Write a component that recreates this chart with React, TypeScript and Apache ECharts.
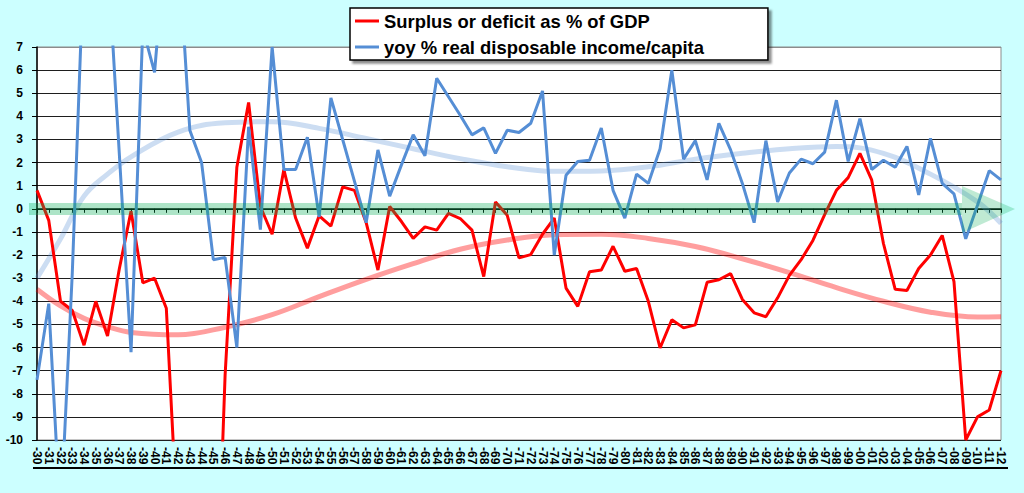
import React, { useEffect, useRef } from "react";
import * as echarts from "echarts";

const yearLabels = [
  "-30","-31","-32","-33","-34","-35","-36","-37","-38","-39",
  "-40","-41","-42","-43","-44","-45","-46","-47","-48","-49",
  "-50","-51","-52","-53","-54","-55","-56","-57","-58","-59",
  "-60","-61","-62","-63","-64","-65","-66","-67","-68","-69",
  "-70","-71","-72","-73","-74","-75","-76","-77","-78","-79",
  "-80","-81","-82","-83","-84","-85","-86","-87","-88","-89",
  "-90","-91","-92","-93","-94","-95","-96","-97","-98","-99",
  "-00","-01","-02","-03","-04","-05","-06","-07","-08","-09",
  "-10","-11","-12",
];

const surplusName = "Surplus or deficit as % of GDP";
const incomeName = "yoy % real disposable income/capita";

// Surplus (+) or deficit (-) as % of GDP, 1930-2012
const surplus = [
  0.8, -0.5, -4.0, -4.4, -5.9, -4.0, -5.5, -2.6, -0.1, -3.2,
  -3.0, -4.3, -14.2, -30.0, -22.7, -21.5, -7.2, 1.8, 4.6, 0.1,
  -1.1, 1.7, -0.4, -1.7, -0.3, -0.75, 0.95, 0.8, -0.6, -2.65,
  0.1, -0.55, -1.28, -0.78, -0.92, -0.2, -0.42, -0.92, -2.93, 0.3,
  -0.28, -2.12, -1.98, -1.1, -0.4, -3.43, -4.22, -2.72, -2.65, -1.62,
  -2.7, -2.58, -4.0, -6.02, -4.8, -5.15, -5.02, -3.18, -3.07, -2.8,
  -3.92, -4.5, -4.67, -3.85, -2.88, -2.2, -1.37, -0.25, 0.8, 1.35,
  2.4, 1.25, -1.5, -3.48, -3.53, -2.58, -2.0, -1.15, -3.15, -10.0,
  -9.0, -8.7, -7.0,
];

// Year-over-year % change in real disposable income per capita, 1930-2012
const income = [
  -7.4, -4.1, -13.5, -2.8, 11.0, 10.0, 11.0, 2.4, -6.2, 7.8,
  5.9, 12.0, 11.5, 3.4, 2.0, -2.2, -2.1, -6.0, 3.55, -0.9,
  7.0, 1.7, 1.7, 3.1, -0.35, 4.8, 3.0, 1.2, -0.6, 2.55,
  0.55, 1.9, 3.2, 2.3, 5.65, 4.85, 4.05, 3.2, 3.5, 2.4,
  3.4, 3.3, 3.7, 5.1, -2.0, 1.45, 2.05, 2.1, 3.5, 0.8,
  -0.4, 1.5, 1.1, 2.6, 6.0, 2.15, 2.95, 1.25, 3.7, 2.55,
  1.1, -0.6, 2.95, 0.3, 1.55, 2.15, 1.95, 2.45, 4.7, 2.05,
  3.9, 1.7, 2.1, 1.8, 2.7, 0.6, 3.05, 1.1, 0.65, -1.3,
  0.15, 1.65, 1.25,
];

// Trend curves at these years
const trendLabels = [
  "-30","-32","-34","-36","-38","-42","-46","-50","-54","-58","-62","-66",
  "-70","-74","-78","-82","-86","-90","-94","-98","-02","-06","-10","-12",
];
const surplusTrend = [
  -3.48, -4.2, -4.74, -5.1, -5.35, -5.45, -5.12, -4.58, -3.8, -3.05, -2.37, -1.75,
  -1.35, -1.12, -1.1, -1.28, -1.63, -2.16, -2.76, -3.41, -4.0, -4.47, -4.68, -4.67,
];
const incomeTrend = [
  -3.0, -1.3, 0.55, 1.5, 2.25, 3.32, 3.72, 3.77, 3.48, 3.04, 2.6, 2.17,
  1.82, 1.62, 1.64, 1.82, 2.15, 2.4, 2.6, 2.7, 2.4, 1.5, 0.3, -0.63,
];

const yMin = -10;
const yMax = 7;
const yStep = 1;

const FONT = "'Liberation Sans', Arial, Helvetica, sans-serif";
const RED = "#ff0000";
const BLUE = "#558ed5";

export default function App() {
  const ref = useRef<HTMLDivElement>(null);

  useEffect(() => {
    if (!ref.current) return;
    const chart = echarts.init(ref.current, null, { renderer: "svg" });

    const gridCount = Math.round((yMax - yMin) / yStep) + 1;
    const splitColors: string[] = [];
    for (let i = 0; i < gridCount; i++) splitColors.push(i === gridCount - 1 ? "#8c8c8c" : "#1e1e1e");

    const option: any = {
      animation: false,
      backgroundColor: "#ccffff",
      textStyle: { fontFamily: FONT },
      grid: {
        left: 37,
        right: 23,
        top: 47,
        bottom: 53,
        show: true,
        backgroundColor: "#ffffff",
        borderColor: "#8c8c8c",
        borderWidth: 1,
        containLabel: false,
      },
      legend: {
        data: [surplusName, incomeName],
        orient: "vertical",
        left: 350,
        top: 8,
        icon: "rect",
        itemWidth: 24,
        itemHeight: 3,
        itemGap: 8,
        padding: [4, 64, 4, 5],
        backgroundColor: "#ffffff",
        borderColor: "#000000",
        borderWidth: 1.5,
        shadowColor: "rgba(0,0,0,0.45)",
        shadowBlur: 2,
        shadowOffsetX: 3,
        shadowOffsetY: 3,
        textStyle: { fontSize: 18.4, fontWeight: "bold", color: "#000", fontFamily: FONT },
      },
      xAxis: {
        type: "category",
        data: yearLabels,
        boundaryGap: false,
        axisLine: { show: true, lineStyle: { color: "#000", width: 1.5 } },
        axisTick: { show: true, length: 4, interval: 0, lineStyle: { color: "#000" } },
        axisLabel: {
          interval: 0,
          rotate: -90,
          margin: 7,
          fontSize: 12,
          fontWeight: "bold",
          color: "#000",
          fontFamily: FONT,
        },
        splitLine: { show: false },
      },
      yAxis: {
        type: "value",
        min: yMin,
        max: yMax,
        interval: yStep,
        axisLine: { show: true, lineStyle: { color: "#000", width: 1.5 } },
        axisTick: { show: true, length: 5, lineStyle: { color: "#000" } },
        axisLabel: {
          margin: 14,
          fontSize: 12,
          fontWeight: "bold",
          color: "#000",
          fontFamily: FONT,
        },
        splitLine: { show: true, lineStyle: { color: splitColors, width: 1 } },
      },
      series: [
        {
          name: "surplus trend",
          type: "line",
          data: trendLabels.map((l, i) => [l, surplusTrend[i]]),
          smooth: 0.4,
          showSymbol: false,
          lineStyle: { color: "rgba(255,0,0,0.38)", width: 5 },
          z: 1,
          silent: true,
        },
        {
          name: "income trend",
          type: "line",
          data: trendLabels.map((l, i) => [l, incomeTrend[i]]),
          smooth: 0.4,
          showSymbol: false,
          lineStyle: { color: "rgba(85,142,213,0.3)", width: 5 },
          z: 1,
          silent: true,
        },
        {
          name: surplusName,
          type: "line",
          data: surplus,
          showSymbol: false,
          color: RED,
          lineStyle: { color: RED, width: 3 },
          clip: true,
          z: 2,
        },
        {
          name: incomeName,
          type: "line",
          data: income,
          showSymbol: false,
          color: BLUE,
          lineStyle: { color: BLUE, width: 3 },
          clip: true,
          z: 3,
        },
      ],
      graphic: [
        {
          type: "rect",
          silent: true,
          z: 100,
          shape: { x: 29, y: 203, width: 933, height: 12 },
          style: { fill: "rgba(0,170,80,0.32)" },
        },
        {
          type: "polygon",
          silent: true,
          z: 100,
          shape: { points: [[962, 186], [1015, 209], [962, 233]] },
          style: { fill: "rgba(0,170,80,0.25)" },
        },
        {
          type: "line",
          silent: true,
          z: 100,
          shape: { x1: 33, y1: 468, x2: 1008, y2: 468 },
          style: { stroke: "#000", lineWidth: 2 },
        },
      ],
    };

    chart.setOption(option);
    return () => chart.dispose();
  }, []);

  return (
    <div
      ref={ref}
      style={{ position: "absolute", left: 0, top: 0, width: 1024, height: 493, background: "#ccffff" }}
    />
  );
}
